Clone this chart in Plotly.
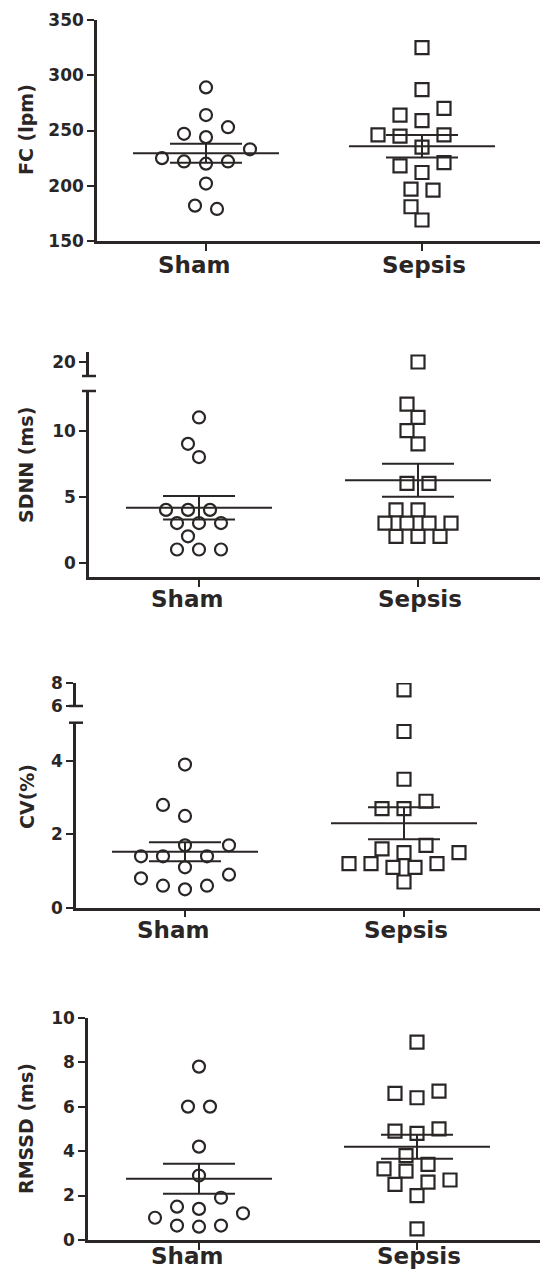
import plotly.graph_objects as go

# ---------------- data ----------------
categories = ["Sham", "Sepsis"]

fc_sham = [289, 264, 253, 247, 244, 233, 222, 220, 222, 225, 202, 179, 182]
fc_sepsis = [325, 287, 270, 264, 259, 246, 246, 245, 235, 221, 218, 212, 197, 196, 181, 169]

sdnn_sham = [11, 9, 8, 4, 4, 4, 3, 3, 3, 2, 1, 1, 1]
sdnn_sepsis = [20, 12, 11, 10, 9, 6, 6, 4, 4, 3, 3, 3, 3, 2, 2, 2]

cv_sham = [3.9, 2.8, 2.5, 1.7, 1.7, 1.4, 1.4, 1.4, 1.1, 0.9, 0.8, 0.6, 0.5, 0.6]
cv_sepsis = [7.4, 4.8, 3.5, 2.9, 2.7, 2.7, 1.6, 1.7, 1.5, 1.5, 1.2, 1.2, 1.2, 1.1, 1.1, 0.7]

rmssd_sham = [7.8, 6.0, 6.0, 4.2, 2.9, 1.9, 1.5, 1.4, 1.2, 1.0, 0.65, 0.6, 0.65]
rmssd_sepsis = [8.9, 6.6, 6.7, 6.4, 5.0, 4.9, 4.8, 3.8, 3.2, 3.4, 3.1, 2.7, 2.5, 2.6, 2.0, 0.5]

y_titles = ["FC (lpm)", "SDNN (ms)", "CV(%)", "RMSSD (ms)"]

fc_ticks = [150, 200, 250, 300, 350]
sdnn_ticks_low = [0, 5, 10]
sdnn_ticks_high = [20]
cv_ticks_low = [0, 2, 4]
cv_ticks_high = [6, 8]
rmssd_ticks = [0, 2, 4, 6, 8, 10]

# ---------------- layout helpers ----------------
W, H = 540, 1274
INK = "#2b2626"
FONT = "DejaVu Sans"
# the photographed page shows the paper between these picture rows
PIC_TOP, PIC_H = 10.0, 1254.0


def fy(px):
    return 1 - (px - PIC_TOP) / PIC_H


def fx(px):
    return px / W


panels = [
    dict(title=y_titles[0], groups=(fc_sham, fc_sepsis), axis_px=97, cat_px=(206, 422),
         segs=[dict(rng=(150, 350), top=20, bottom=241, ticks=fc_ticks)],
         title_xy=(26, 130), label_y=265),
    dict(title=y_titles[1], groups=(sdnn_sham, sdnn_sepsis), axis_px=89, cat_px=(199, 418),
         segs=[dict(rng=(-1.08, 13.0), top=391, bottom=577, ticks=sdnn_ticks_low),
               dict(rng=(18.94, 20.76), top=352, bottom=376, ticks=sdnn_ticks_high)],
         title_xy=(26, 465), label_y=599),
    dict(title=y_titles[2], groups=(cv_sham, cv_sepsis), axis_px=76, cat_px=(185, 404),
         segs=[dict(rng=(0, 5.04), top=722.7, bottom=907.7, ticks=cv_ticks_low),
               dict(rng=(6, 8), top=683, bottom=706, ticks=cv_ticks_high)],
         title_xy=(27, 797), label_y=930),
    dict(title=y_titles[3], groups=(rmssd_sham, rmssd_sepsis), axis_px=88, cat_px=(199, 417),
         segs=[dict(rng=(0, 10), top=1017.7, bottom=1240, ticks=rmssd_ticks)],
         title_xy=(26, 1129), label_y=1256),
]


def seg_of(segs, v):
    if len(segs) > 1 and v > segs[0]["rng"][1]:
        return 1
    return 0


def to_px(segs, v):
    s = segs[seg_of(segs, v)]
    lo, hi = s["rng"]
    return s["top"] + (hi - v) / (hi - lo) * (s["bottom"] - s["top"])


def swarm(ypx, h=11.0, Dx=22.0, Dy=15.0):
    n = len(ypx)
    order = sorted(range(n), key=lambda i: -ypx[i])
    off = [0.0] * n
    placed = []

    def hits(o, y, ignore=()):
        for j in placed:
            if j in ignore:
                continue
            if ((o - off[j]) / Dx) ** 2 + ((y - ypx[j]) / Dy) ** 2 < 0.999:
                return True
        return False

    for i in order:
        k = 0
        while True:
            cands = [0] if k == 0 else [-k, k]
            done = False
            for c in cands:
                if not hits(c * h, ypx[i]):
                    off[i] = c * h
                    done = True
                    break
            if done:
                break
            k += 1
        placed.append(i)

    rows, cur = [], [order[0]]
    for a, b in zip(order, order[1:]):
        if abs(ypx[a] - ypx[b]) < 4.5:
            cur.append(b)
        else:
            rows.append(cur)
            cur = [b]
    rows.append(cur)
    for row in rows:
        m = sum(off[i] for i in row) / len(row)
        s = -round(m / h) * h
        if s == 0:
            continue
        if all(not hits(off[i] + s, ypx[i], ignore=row) for i in row):
            for i in row:
                off[i] += s
    return off


fig = go.Figure()
layout = dict(
    width=W, height=H, margin=dict(l=0, r=0, t=0, b=0),
    paper_bgcolor="white", plot_bgcolor="rgba(0,0,0,0)", showlegend=False,
    font=dict(family=FONT, color=INK),
)
annotations = []
shapes = []
ax = 0
symbols = ["circle-open", "square-open"]
msize = [12, 13]

for p in panels:
    ppu = p["cat_px"][1] - p["cat_px"][0]
    xmin = (p["axis_px"] - p["cat_px"][0]) / ppu
    xmax = (W - p["cat_px"][0]) / ppu
    seg_axes = []
    for si, s in enumerate(p["segs"]):
        ax += 1
        sfx = "" if ax == 1 else str(ax)
        seg_axes.append(("x" + sfx, "y" + sfx))
        main = si == 0
        layout["xaxis" + sfx] = dict(
            domain=[fx(p["axis_px"]), 1], range=[xmin, xmax], anchor="y" + sfx,
            showline=main, linecolor=INK, linewidth=2.5,
            ticks="outside" if main else "", tickvals=[0, 1], ticklen=7, tickwidth=2,
            tickcolor=INK, showticklabels=False, showgrid=False, zeroline=False,
            visible=main,
        )
        layout["yaxis" + sfx] = dict(
            domain=[fy(s["bottom"]), fy(s["top"])], range=list(s["rng"]), anchor="x" + sfx,
            showline=True, linecolor=INK, linewidth=2.5, ticks="outside",
            tickvals=s["ticks"], ticktext=[str(t) for t in s["ticks"]],
            ticklen=7, tickwidth=2, tickcolor=INK,
            tickfont=dict(family=FONT, size=17, weight="bold", color=INK),
            showgrid=False, zeroline=False,
        )

    for gi, vals in enumerate(p["groups"]):
        ypx = [to_px(p["segs"], v) for v in vals]
        offs = swarm(ypx)
        for si in range(len(p["segs"])):
            xs = [gi + o / ppu for v, o in zip(vals, offs) if seg_of(p["segs"], v) == si]
            ys = [v for v in vals if seg_of(p["segs"], v) == si]
            if not ys:
                continue
            fig.add_trace(go.Scatter(
                x=xs, y=ys, mode="markers", xaxis=seg_axes[si][0], yaxis=seg_axes[si][1],
                marker=dict(symbol=symbols[gi], size=msize[gi], color=INK,
                            line=dict(width=2.2, color=INK)),
                hoverinfo="y", name=categories[gi],
            ))
        n = len(vals)
        m = sum(vals) / n
        sd = (sum((v - m) ** 2 for v in vals) / (n - 1)) ** 0.5
        se = sd / n ** 0.5
        hw, sw = 73 / ppu, 36 / ppu
        fig.add_trace(go.Scatter(
            x=[gi - hw, gi + hw, None, gi - sw, gi + sw, None, gi - sw, gi + sw, None, gi, gi],
            y=[m, m, None, m + se, m + se, None, m - se, m - se, None, m - se, m + se],
            mode="lines", line=dict(color=INK, width=2),
            xaxis=seg_axes[0][0], yaxis=seg_axes[0][1], hoverinfo="skip",
        ))
        annotations.append(dict(
            text=categories[gi], xref="paper", yref="paper",
            x=fx(p["cat_px"][gi] + (-12 if gi == 0 else 2)), y=fy(p["label_y"]),
            xanchor="center", yanchor="middle", showarrow=False,
            font=dict(family=FONT, size=23, weight="bold", color=INK),
        ))

    annotations.append(dict(
        text=p["title"], xref="paper", yref="paper",
        x=fx(p["title_xy"][0]), y=fy(p["title_xy"][1]), textangle=-90,
        xanchor="center", yanchor="middle", showarrow=False,
        font=dict(family=FONT, size=19, weight="bold", color=INK),
    ))

    if len(p["segs"]) > 1:
        a = p["axis_px"]
        for ypos in (p["segs"][1]["bottom"], p["segs"][0]["top"]):
            shapes.append(dict(type="line", xref="paper", yref="paper",
                               x0=fx(a - 7), x1=fx(a + 7), y0=fy(ypos), y1=fy(ypos),
                               line=dict(color=INK, width=2.5)))

layout["annotations"] = annotations
layout["shapes"] = shapes
fig.update_layout(**layout)
fig.write_html(
    "out.html",
    config={"displayModeBar": False},
    post_script="document.body.style.margin='0';document.body.style.overflow='hidden';",
)
